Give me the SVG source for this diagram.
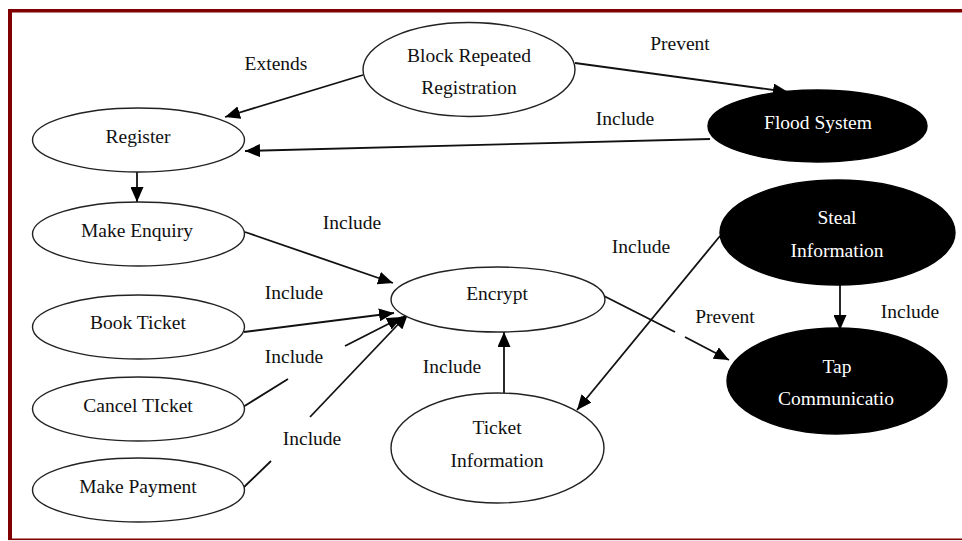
<svg xmlns="http://www.w3.org/2000/svg" width="962" height="541" viewBox="0 0 962 541" font-family="'Liberation Serif', 'DejaVu Serif', serif">
  <style>
    .uc { fill: #ffffff; stroke: #222222; stroke-width: 1.4; }
    .threat { fill: #000000; stroke: #000000; stroke-width: 1.4; }
    .lbl { font-family: 'Liberation Serif', 'DejaVu Serif', serif; font-size: 19.5px; fill: #111111; text-anchor: middle; }
    .inv { fill: #ffffff; }
    .edge { stroke: #111111; stroke-width: 1.8; fill: none; }
    .frame { fill: #800000; }
  </style>
  <defs>
    <marker id="arrow" markerUnits="userSpaceOnUse" markerWidth="15" markerHeight="13" refX="15" refY="6.5" orient="auto">
      <path d="M0,0 L15,6.5 L0,13 z" fill="#000000"/>
    </marker>
  </defs>

  <rect width="962" height="541" fill="#ffffff"/>

  <!-- page frame -->
  <g id="frame">
    <rect class="frame" x="8" y="9" width="954" height="3.5"/>
    <rect class="frame" x="8" y="9" width="4" height="531"/>
    <rect class="frame" x="8" y="538.5" width="954" height="1.6"/>
  </g>

  <!-- connectors -->
  <g id="connectors">
    <line class="edge" x1="363" y1="75" x2="225" y2="117" marker-end="url(#arrow)"/>
    <line class="edge" x1="575" y1="63" x2="788" y2="92" marker-end="url(#arrow)"/>
    <line class="edge" x1="710" y1="139" x2="245" y2="151" marker-end="url(#arrow)"/>
    <line class="edge" x1="137" y1="172" x2="137" y2="202" marker-end="url(#arrow)"/>
    <line class="edge" x1="245" y1="232" x2="393" y2="283" marker-end="url(#arrow)"/>
    <line class="edge" x1="244" y1="332" x2="394" y2="313" marker-end="url(#arrow)"/>
    <line class="edge" x1="243" y1="407" x2="288" y2="379"/>
    <line class="edge" x1="345" y1="346" x2="402" y2="317" marker-end="url(#arrow)"/>
    <line class="edge" x1="243" y1="488" x2="271" y2="461"/>
    <line class="edge" x1="310" y1="417" x2="408" y2="314" marker-end="url(#arrow)"/>
    <line class="edge" x1="504" y1="393" x2="504" y2="332" marker-end="url(#arrow)"/>
    <line class="edge" x1="602" y1="295" x2="675" y2="332"/>
    <line class="edge" x1="685" y1="337" x2="729" y2="360" marker-end="url(#arrow)"/>
    <line class="edge" x1="720" y1="236" x2="577" y2="410" marker-end="url(#arrow)"/>
    <line class="edge" x1="840" y1="285" x2="840" y2="330" marker-end="url(#arrow)"/>
  </g>

  <!-- connector labels -->
  <g id="edge-labels">
    <text class="lbl" x="276" y="70">Extends</text>
    <text class="lbl" x="680" y="50">Prevent</text>
    <text class="lbl" x="625" y="125">Include</text>
    <text class="lbl" x="352" y="229">Include</text>
    <text class="lbl" x="294" y="299">Include</text>
    <text class="lbl" x="294" y="363">Include</text>
    <text class="lbl" x="312" y="445">Include</text>
    <text class="lbl" x="641" y="253">Include</text>
    <text class="lbl" x="452" y="373">Include</text>
    <text class="lbl" x="725" y="323">Prevent</text>
    <text class="lbl" x="910" y="318">Include</text>
  </g>

  <!-- use cases -->
  <g id="register">
    <ellipse class="uc" cx="138.5" cy="140" rx="106" ry="32"/>
    <text class="lbl" x="138" y="143">Register</text>
  </g>
  <g id="make-enquiry">
    <ellipse class="uc" cx="138.5" cy="234" rx="106" ry="32"/>
    <text class="lbl" x="137" y="237">Make Enquiry</text>
  </g>
  <g id="book-ticket">
    <ellipse class="uc" cx="138.5" cy="327" rx="106" ry="32"/>
    <text class="lbl" x="138" y="329">Book Ticket</text>
  </g>
  <g id="cancel-ticket">
    <ellipse class="uc" cx="138.5" cy="409" rx="106" ry="32"/>
    <text class="lbl" x="138" y="412">Cancel TIcket</text>
  </g>
  <g id="make-payment">
    <ellipse class="uc" cx="138.5" cy="490" rx="106" ry="32"/>
    <text class="lbl" x="138" y="493">Make Payment</text>
  </g>
  <g id="block-repeated-registration">
    <ellipse class="uc" cx="469" cy="69.5" rx="106" ry="47"/>
    <text class="lbl" x="469" y="62">Block Repeated</text>
    <text class="lbl" x="469" y="94">Registration</text>
  </g>
  <g id="encrypt">
    <ellipse class="uc" cx="498" cy="299.5" rx="107" ry="32.5"/>
    <text class="lbl" x="497" y="300">Encrypt</text>
  </g>
  <g id="ticket-information">
    <ellipse class="uc" cx="497.5" cy="448" rx="106.5" ry="55"/>
    <text class="lbl" x="497" y="434">Ticket</text>
    <text class="lbl" x="497" y="467">Information</text>
  </g>

  <!-- threats -->
  <g id="flood-system">
    <ellipse class="threat" cx="817.5" cy="126" rx="109.5" ry="36"/>
    <text class="lbl inv" x="818" y="129">Flood System</text>
  </g>
  <g id="steal-information">
    <ellipse class="threat" cx="837.5" cy="232.5" rx="117.5" ry="52.5"/>
    <text class="lbl inv" x="837" y="224">Steal</text>
    <text class="lbl inv" x="837" y="257">Information</text>
  </g>
  <g id="tap-communication">
    <ellipse class="threat" cx="837" cy="381" rx="110" ry="53"/>
    <text class="lbl inv" x="837" y="373">Tap</text>
    <text class="lbl inv" x="836" y="405">Communicatio</text>
  </g>
</svg>
